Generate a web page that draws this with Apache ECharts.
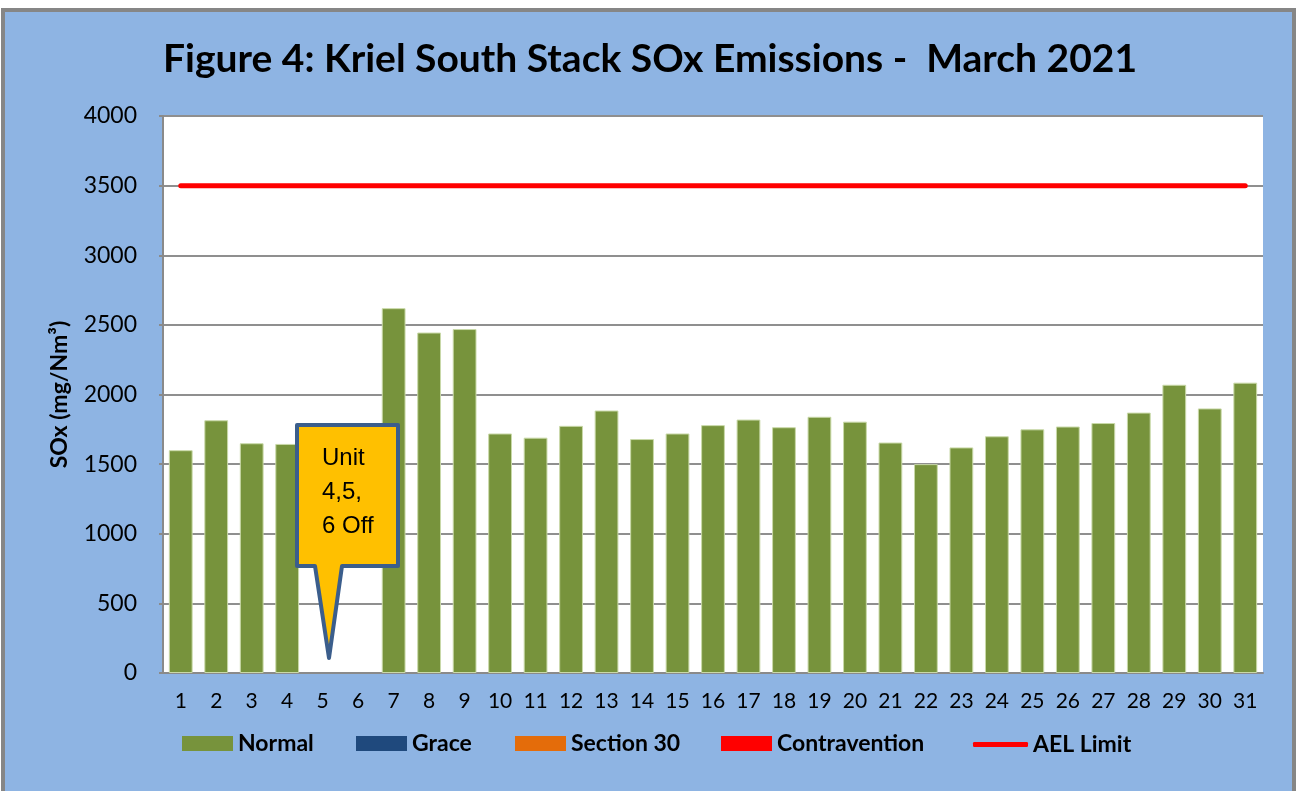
<!DOCTYPE html>
<html>
<head>
<meta charset="utf-8">
<script src="https://cdn.jsdelivr.net/npm/echarts@6/dist/echarts.min.js"></script>
<style>
html,body{margin:0;padding:0;background:#fff;}
#chart{width:1300px;height:791px;}
</style>
</head>
<body>
<div id="chart"></div>
<script>
const days = ['1','2','3','4','5','6','7','8','9','10','11','12','13','14','15','16','17','18','19','20','21','22','23','24','25','26','27','28','29','30','31'];
const normal = [1600,1815,1650,1645,null,null,2620,2445,2470,1720,1690,1775,1885,1680,1720,1780,1820,1765,1840,1805,1655,1500,1620,1700,1750,1770,1795,1870,2070,1900,2085];
const grace = [];
const section30 = [];
const contravention = [];
const aelLimit = [3500,3500,3500,3500,3500,3500,3500,3500,3500,3500,3500,3500,3500,3500,3500,3500,3500,3500,3500,3500,3500,3500,3500,3500,3500,3500,3500,3500,3500,3500,3500];
const yTicks = {min:0, max:4000, interval:500};
const titleText = 'Figure 4: Kriel South Stack SOx Emissions -  March 2021';
const yName = 'SOx (mg/Nm³)';
const calloutLines = ['Unit', '4,5,', '6 Off'];

const FONT = 'Lato, "Open Sans", sans-serif';
const chart = echarts.init(document.getElementById('chart'), null, {renderer:'canvas'});

function legendAt(name, left, isLine){
  return {
    data:[{name:name, icon: isLine ? 'roundRect' : 'rect', itemStyle:{borderWidth:0}}],
    left:left, top: isLine ? 733 : 732, orient:'horizontal', padding:0,
    itemWidth: isLine ? 55 : 51, itemHeight: isLine ? 5 : 15, itemGap:0,
    textStyle:{fontFamily:FONT, fontWeight:'bold', fontSize:23, color:'#000', padding:[0,0,0,0]},
    selectedMode:false
  };
}

const option = {
  animation:false,
  backgroundColor:'#ffffff',
  graphic:[
    {type:'rect', z:-10, silent:true, shape:{x:3, y:10, width:1291, height:800},
     style:{fill:'#8EB4E3', stroke:'#868686', lineWidth:4}},
    {type:'polygon', z:200, shape:{points:[[297,425],[398,425],[398,566],[342,566],[329,658],[315,566],[297,566]]},
     style:{fill:'#FFC000', stroke:'#3B5E8C', lineWidth:4, lineJoin:'round'}},
    {type:'text', z:201, left:322, top:441, style:{text:calloutLines.join('\n'), font:'24px "Liberation Sans", Arial, sans-serif', fill:'#000', lineHeight:34, align:'left'}}
  ],
  title:{
    text:titleText, left:'center', top:35,
    textStyle:{fontFamily:FONT, fontWeight:'bold', fontSize:39, color:'#000'}
  },
  legend:[
    legendAt('Normal', 182),
    legendAt('Grace', 356),
    legendAt('Section 30', 515),
    legendAt('Contravention', 721),
    legendAt('AEL Limit', 973, true)
  ],
  grid:{left:163, right:37, top:116, bottom:118, show:true, backgroundColor:'#ffffff', borderWidth:0},
  xAxis:{
    type:'category', data:days, boundaryGap:true,
    axisLine:{lineStyle:{color:'#8A8A8A', width:2}},
    axisTick:{show:false},
    axisLabel:{fontFamily:FONT, fontSize:21, color:'#000', margin:18, interval:0}
  },
  yAxis:{
    type:'value', min:yTicks.min, max:yTicks.max, interval:yTicks.interval,
    name:yName, nameLocation:'middle', nameGap:92, nameRotate:90,
    nameTextStyle:{fontFamily:FONT, fontWeight:'bold', fontSize:23, color:'#000'},
    axisLine:{show:true, lineStyle:{color:'#8A8A8A', width:2}},
    axisTick:{show:true, length:4, lineStyle:{color:'#8A8A8A', width:2}},
    axisLabel:{fontFamily:FONT, fontSize:23, color:'#000', margin:26, formatter:function(v){return String(v);}},
    splitLine:{lineStyle:{color:'#8F8F8F', width:2}}
  },
  series:[
    {name:'Normal', type:'bar', data:normal, barWidth:'67%', barGap:'-100%',
     itemStyle:{color:'#77933C', borderColor:'#C9D9A8', borderWidth:1}},
    {name:'Grace', type:'bar', data:grace, barWidth:'67%', barGap:'-100%', itemStyle:{color:'#1F497D'}},
    {name:'Section 30', type:'bar', data:section30, barWidth:'67%', barGap:'-100%', itemStyle:{color:'#E46C0A'}},
    {name:'Contravention', type:'bar', data:contravention, barWidth:'67%', barGap:'-100%', itemStyle:{color:'#FF0000'}},
    {name:'AEL Limit', type:'line', data:aelLimit, symbol:'none', z:5,
     lineStyle:{color:'#FF0000', width:5, cap:'round'}, itemStyle:{color:'#FF0000'}}
  ]
};
chart.setOption(option);
</script>
</body>
</html>
